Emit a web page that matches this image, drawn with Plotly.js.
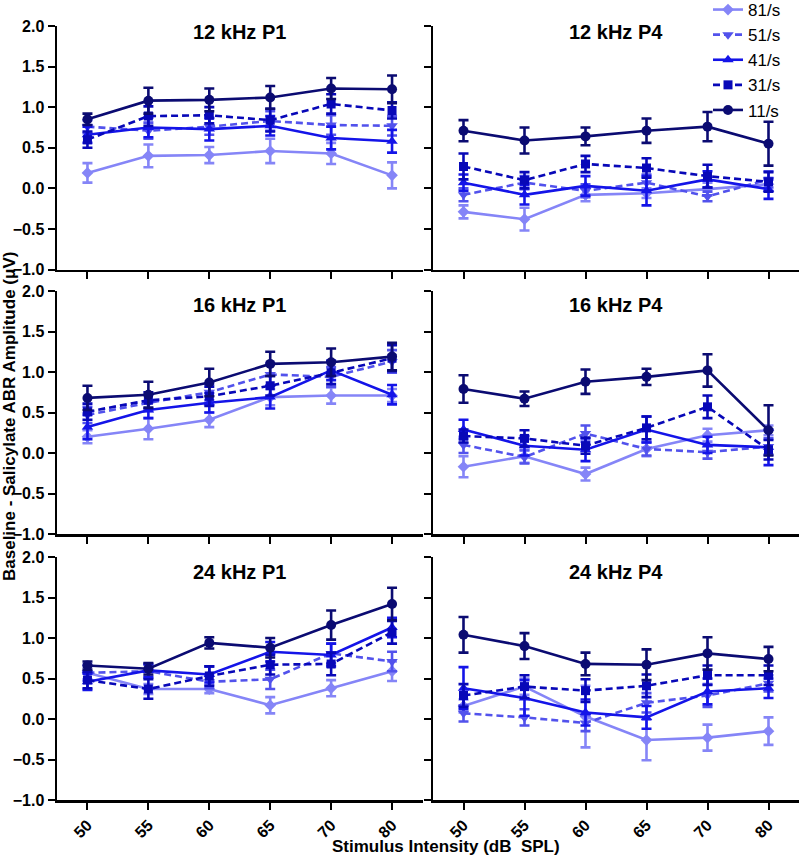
<!DOCTYPE html>
<html>
<head>
<meta charset="utf-8">
<script src="https://cdn.plot.ly/plotly-3.0.1.min.js"></script>
<style>html,body{margin:0;padding:0;background:#fff;}#chart{width:800px;height:857px;}</style>
</head>
<body>
<div id="chart"></div>
<script>
// ---- data ----
const intensities = ['50', '55', '60', '65', '70', '80'];
const rates = ['81/s', '51/s', '41/s', '31/s', '11/s'];
const panelTitles = ['12 kHz P1', '12 kHz P4', '16 kHz P1', '16 kHz P4', '24 kHz P1', '24 kHz P4'];

// rows: 81/s, 51/s, 41/s, 31/s, 11/s
const amp_12kHz_P1 = [
  [0.19, 0.40, 0.41, 0.46, 0.43, 0.16],
  [0.76, 0.71, 0.76, 0.83, 0.78, 0.77],
  [0.66, 0.75, 0.73, 0.77, 0.62, 0.58],
  [0.60, 0.89, 0.90, 0.84, 1.04, 0.96],
  [0.85, 1.08, 1.09, 1.12, 1.23, 1.22]
];
const err_12kHz_P1 = [
  [0.12, 0.14, 0.10, 0.15, 0.13, 0.16],
  [0.08, 0.10, 0.10, 0.12, 0.12, 0.12],
  [0.10, 0.12, 0.14, 0.12, 0.14, 0.14],
  [0.10, 0.12, 0.10, 0.14, 0.12, 0.10],
  [0.07, 0.16, 0.14, 0.14, 0.13, 0.17]
];
const amp_12kHz_P4 = [
  [-0.29, -0.38, -0.08, -0.06, -0.01, 0.05],
  [-0.08, 0.07, -0.03, 0.07, -0.10, 0.11],
  [0.07, -0.08, 0.03, -0.03, 0.11, -0.01],
  [0.27, 0.10, 0.30, 0.25, 0.15, 0.08],
  [0.71, 0.59, 0.64, 0.71, 0.76, 0.55]
];
const err_12kHz_P4 = [
  [0.08, 0.14, 0.08, 0.06, 0.08, 0.08],
  [0.08, 0.08, 0.08, 0.10, 0.06, 0.10],
  [0.10, 0.12, 0.12, 0.18, 0.10, 0.12],
  [0.16, 0.10, 0.10, 0.12, 0.14, 0.12],
  [0.13, 0.16, 0.11, 0.15, 0.18, 0.27]
];
const amp_16kHz_P1 = [
  [0.20, 0.30, 0.41, 0.69, 0.71, 0.71],
  [0.47, 0.62, 0.75, 0.97, 0.94, 1.13],
  [0.32, 0.53, 0.62, 0.69, 1.02, 0.72],
  [0.51, 0.65, 0.70, 0.83, 0.99, 1.17],
  [0.68, 0.72, 0.87, 1.10, 1.12, 1.19]
];
const err_16kHz_P1 = [
  [0.08, 0.13, 0.09, 0.10, 0.10, 0.08],
  [0.10, 0.10, 0.10, 0.14, 0.12, 0.14],
  [0.15, 0.10, 0.12, 0.14, 0.12, 0.12],
  [0.10, 0.10, 0.12, 0.12, 0.14, 0.16],
  [0.15, 0.16, 0.17, 0.15, 0.17, 0.17]
];
const amp_16kHz_P4 = [
  [-0.17, -0.04, -0.26, 0.05, 0.22, 0.28],
  [0.10, -0.05, 0.24, 0.05, 0.01, 0.08],
  [0.29, 0.09, 0.04, 0.29, 0.10, 0.07],
  [0.21, 0.18, 0.09, 0.31, 0.57, 0.04],
  [0.79, 0.67, 0.88, 0.94, 1.02, 0.28]
];
const err_16kHz_P4 = [
  [0.13, 0.08, 0.08, 0.09, 0.08, 0.06],
  [0.10, 0.08, 0.10, 0.08, 0.08, 0.10],
  [0.12, 0.12, 0.14, 0.16, 0.10, 0.22],
  [0.08, 0.10, 0.10, 0.14, 0.14, 0.12],
  [0.17, 0.09, 0.15, 0.10, 0.20, 0.31]
];
const amp_24kHz_P1 = [
  [0.57, 0.37, 0.37, 0.17, 0.38, 0.59],
  [0.57, 0.59, 0.46, 0.49, 0.81, 0.71],
  [0.46, 0.60, 0.55, 0.83, 0.79, 1.13],
  [0.48, 0.37, 0.53, 0.67, 0.68, 1.07],
  [0.66, 0.62, 0.94, 0.88, 1.16, 1.42]
];
const err_24kHz_P1 = [
  [0.08, 0.06, 0.05, 0.10, 0.10, 0.12],
  [0.10, 0.08, 0.08, 0.12, 0.12, 0.12],
  [0.10, 0.08, 0.10, 0.12, 0.14, 0.12],
  [0.10, 0.12, 0.12, 0.12, 0.14, 0.14],
  [0.05, 0.07, 0.07, 0.12, 0.18, 0.20]
];
const amp_24kHz_P4 = [
  [0.16, 0.40, 0.03, -0.26, -0.23, -0.15],
  [0.07, 0.02, -0.05, 0.20, 0.29, 0.44],
  [0.38, 0.26, 0.08, 0.02, 0.34, 0.38],
  [0.29, 0.40, 0.35, 0.41, 0.54, 0.54],
  [1.04, 0.90, 0.68, 0.67, 0.81, 0.74]
];
const err_24kHz_P4 = [
  [0.08, 0.10, 0.38, 0.25, 0.16, 0.17],
  [0.10, 0.10, 0.10, 0.12, 0.14, 0.10],
  [0.26, 0.22, 0.16, 0.14, 0.16, 0.12],
  [0.14, 0.14, 0.14, 0.14, 0.12, 0.12],
  [0.22, 0.16, 0.14, 0.19, 0.20, 0.15]
];

// ---- styling ----
const colors = ['#8585f7', '#5252ec', '#1414e8', '#0808b8', '#0b0b72'];
const symbols = ['diamond', 'triangle-down', 'triangle-up', 'square', 'circle'];
const dashes = ['solid', '7px,4px', 'solid', '7px,4px', 'solid'];
const msizes = [9, 10, 10, 9, 10];

const panelAmps = [amp_12kHz_P1, amp_12kHz_P4, amp_16kHz_P1, amp_16kHz_P4, amp_24kHz_P1, amp_24kHz_P4];
const panelErrs = [err_12kHz_P1, err_12kHz_P4, err_16kHz_P1, err_16kHz_P4, err_24kHz_P1, err_24kHz_P4];

const traces = [];
panelAmps.forEach((amps, p) => {
  const ax = p === 0 ? '' : String(p + 1);
  rates.forEach((r, i) => {
    traces.push({
      type: 'scatter', mode: 'lines+markers',
      x: intensities, y: amps[i],
      xaxis: 'x' + ax, yaxis: 'y' + ax,
      name: r, legendgroup: r, showlegend: p === 0,
      line: {color: colors[i], width: 2.6, dash: dashes[i]},
      marker: {color: colors[i], symbol: symbols[i], size: msizes[i]},
      error_y: {type: 'data', array: panelErrs[p][i], visible: true, color: colors[i], thickness: 2.6, width: 5}
    });
  });
});

const pl = 57, pr = 1, pt = 26, pb = 57, W = 800, H = 857;
const plotW = W - pl - pr, plotH = H - pt - pb;
const px2x = v => (v - pl) / plotW;
const px2y = v => (H - pb - v) / plotH;
const xDomains = [[0, px2x(422.5)], [px2x(433), 1]];
const yDomains = [[px2y(269.5), 1], [px2y(534), px2y(291)], [0, px2y(557)]];
const titleY = [32.5, 305, 571.5];

const fontFam = 'Arial, "Liberation Sans", sans-serif';
const layout = {
  width: W, height: H,
  margin: {l: pl, r: pr, t: pt, b: pb, autoexpand: false},
  paper_bgcolor: '#fff', plot_bgcolor: 'rgba(0,0,0,0)',
  font: {family: fontFam, color: '#000'},
  showlegend: true,
  legend: {
    x: px2x(708), xanchor: 'left', y: px2y(-8), yanchor: 'top',
    font: {size: 17, family: fontFam, color: '#000'},
    bgcolor: 'rgba(0,0,0,0)', itemwidth: 30, tracegroupgap: 0
  },
  annotations: [],
  hovermode: false
};

for (let p = 0; p < 6; p++) {
  const row = Math.floor(p / 2), col = p % 2;
  const ax = p === 0 ? '' : String(p + 1);
  layout['xaxis' + ax] = {
    domain: xDomains[col], anchor: 'y' + ax,
    type: 'category', categoryarray: intensities, range: [-0.5, 5.5],
    showline: true, linecolor: '#000', linewidth: 2.5,
    ticks: 'outside', ticklen: 7, tickwidth: 2, tickcolor: '#000',
    showgrid: false, zeroline: false,
    showticklabels: row === 2, tickangle: -45,
    tickfont: {size: 16, family: fontFam, weight: 700, color: '#000'}
  };
  layout['yaxis' + ax] = {
    domain: yDomains[row], anchor: 'x' + ax,
    range: [-1, 2], dtick: 0.5, tick0: 0, tickformat: '.1f',
    showline: true, linecolor: '#000', linewidth: 2.5,
    ticks: 'outside', ticklen: 7, tickwidth: 2, tickcolor: '#000',
    showgrid: false, zeroline: false,
    showticklabels: col === 0,
    tickfont: {size: 16, family: fontFam, weight: 700, color: '#000'}
  };
  layout.annotations.push({
    text: panelTitles[p], xref: 'paper', yref: 'paper',
    x: (xDomains[col][0] + xDomains[col][1]) / 2, y: px2y(titleY[row]),
    xanchor: 'center', yanchor: 'middle', showarrow: false,
    font: {size: 20, family: fontFam, weight: 700, color: '#000'}
  });
}

layout.annotations.push({
  text: 'Stimulus Intensity (dB\u00a0 SPL)', xref: 'paper', yref: 'paper',
  x: px2x(446), y: px2y(846), xanchor: 'center', yanchor: 'middle', showarrow: false,
  font: {size: 17, family: fontFam, weight: 700, color: '#000'}
});
layout.annotations.push({
  text: 'Baseline - Salicylate ABR Amplitude (\u03bcV)', xref: 'paper', yref: 'paper',
  x: px2x(10), y: px2y(417), xanchor: 'center', yanchor: 'middle', textangle: -90, showarrow: false,
  font: {size: 17, family: fontFam, weight: 700, color: '#000'}
});

Plotly.newPlot('chart', traces, layout, {displayModeBar: false, staticPlot: true});
</script>
</body>
</html>
